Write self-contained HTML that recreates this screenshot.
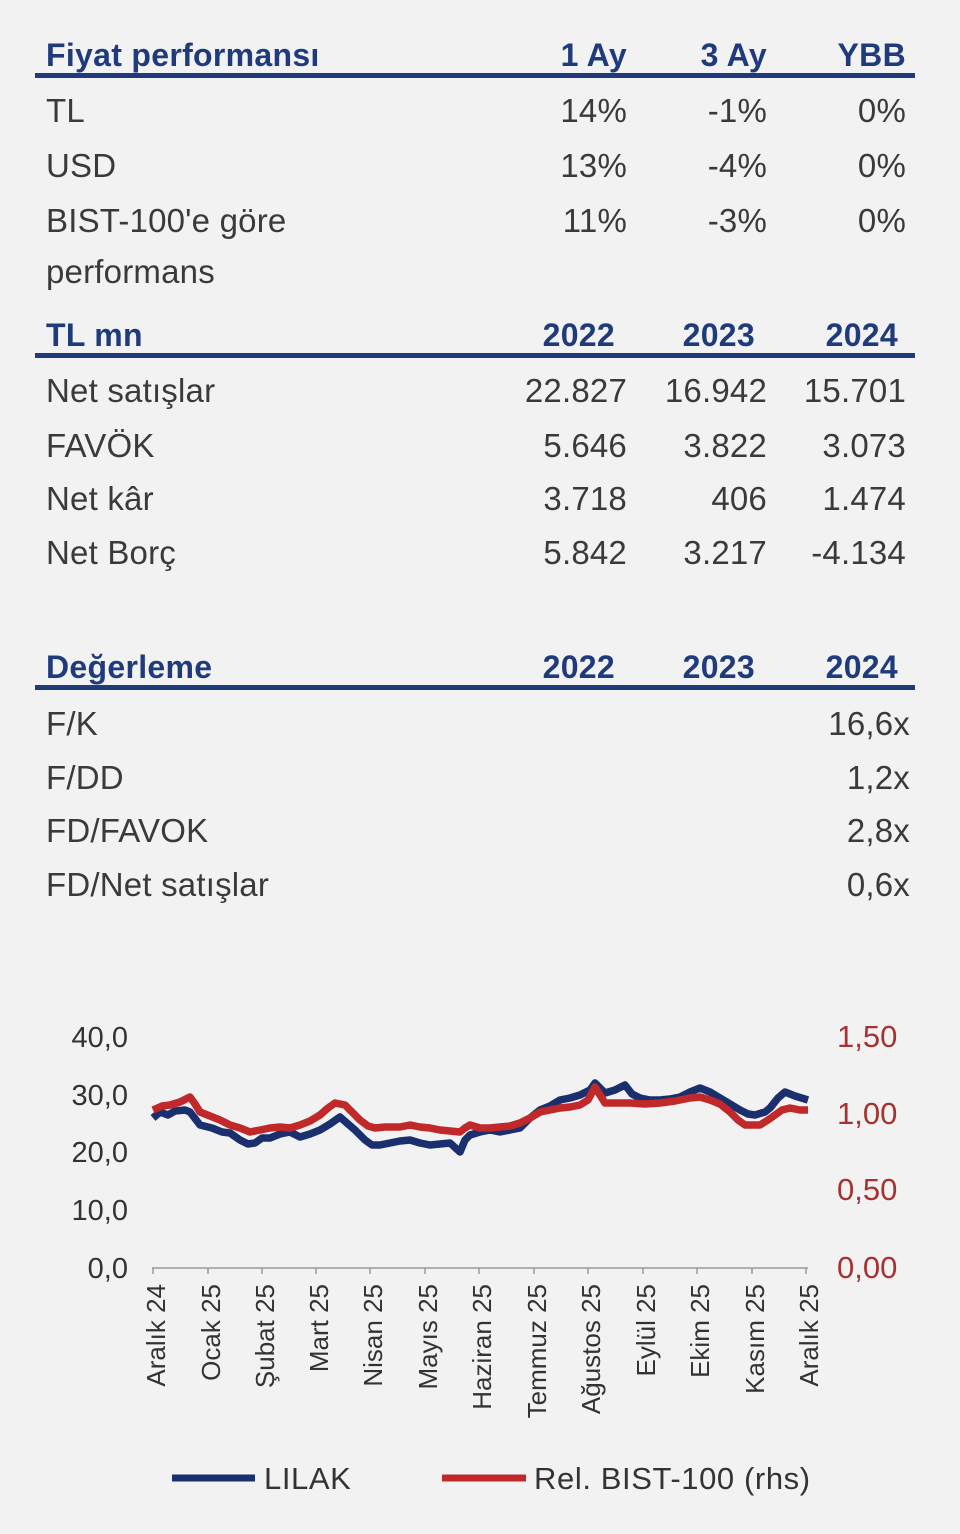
<!DOCTYPE html>
<html><head><meta charset="utf-8"><style>
html,body{margin:0;padding:0;background:#f2f2f2;}
svg{display:block}
.h{font:bold 32px "Liberation Sans",sans-serif;fill:#1f3b7c;letter-spacing:0.3px}
.t{font:33px "Liberation Sans",sans-serif;fill:#3a3a3a;letter-spacing:0.2px}
.ax{font:29px "Liberation Sans",sans-serif;fill:#333}
.axr{font:31px "Liberation Sans",sans-serif;fill:#a83232}
.xl{font:26px "Liberation Sans",sans-serif;fill:#333}
.lg{font:31px "Liberation Sans",sans-serif;fill:#333;letter-spacing:0.6px}
</style></head><body>
<svg width="960" height="1534" viewBox="0 0 960 1534" xmlns="http://www.w3.org/2000/svg">
<rect width="960" height="1534" fill="#f2f2f2"/>
<g text-anchor="end">
<text class="h" x="46" y="66" text-anchor="start">Fiyat performansı</text>
<text class="h" x="627" y="66">1 Ay</text><text class="h" x="767" y="66">3 Ay</text><text class="h" x="906" y="66">YBB</text>
<rect x="35" y="73" width="880" height="5" fill="#1f3b7c"/>
<text class="t" x="46" y="122" text-anchor="start">TL</text><text class="t" x="627" y="122">14%</text><text class="t" x="767" y="122">-1%</text><text class="t" x="906" y="122">0%</text>
<text class="t" x="46" y="177" text-anchor="start">USD</text><text class="t" x="627" y="177">13%</text><text class="t" x="767" y="177">-4%</text><text class="t" x="906" y="177">0%</text>
<text class="t" x="46" y="232" text-anchor="start">BIST-100'e göre</text><text class="t" x="627" y="232">11%</text><text class="t" x="767" y="232">-3%</text><text class="t" x="906" y="232">0%</text>
<text class="t" x="46" y="283" text-anchor="start">performans</text>

<text class="h" x="46" y="346" text-anchor="start">TL mn</text>
<text class="h" x="615" y="346">2022</text><text class="h" x="755" y="346">2023</text><text class="h" x="898" y="346">2024</text>
<rect x="35" y="353" width="880" height="5" fill="#1f3b7c"/>
<text class="t" x="46" y="402" text-anchor="start">Net satışlar</text><text class="t" x="627" y="402">22.827</text><text class="t" x="767" y="402">16.942</text><text class="t" x="906" y="402">15.701</text>
<text class="t" x="46" y="457" text-anchor="start">FAVÖK</text><text class="t" x="627" y="457">5.646</text><text class="t" x="767" y="457">3.822</text><text class="t" x="906" y="457">3.073</text>
<text class="t" x="46" y="510" text-anchor="start">Net kâr</text><text class="t" x="627" y="510">3.718</text><text class="t" x="767" y="510">406</text><text class="t" x="906" y="510">1.474</text>
<text class="t" x="46" y="564" text-anchor="start">Net Borç</text><text class="t" x="627" y="564">5.842</text><text class="t" x="767" y="564">3.217</text><text class="t" x="906" y="564">-4.134</text>

<text class="h" x="46" y="678" text-anchor="start">Değerleme</text>
<text class="h" x="615" y="678">2022</text><text class="h" x="755" y="678">2023</text><text class="h" x="898" y="678">2024</text>
<rect x="35" y="685" width="880" height="5" fill="#1f3b7c"/>
<text class="t" x="46" y="735" text-anchor="start">F/K</text><text class="t" x="910" y="735">16,6x</text>
<text class="t" x="46" y="789" text-anchor="start">F/DD</text><text class="t" x="910" y="789">1,2x</text>
<text class="t" x="46" y="842" text-anchor="start">FD/FAVOK</text><text class="t" x="910" y="842">2,8x</text>
<text class="t" x="46" y="896" text-anchor="start">FD/Net satışlar</text><text class="t" x="910" y="896">0,6x</text>

<text class="ax" x="128" y="1047">40,0</text><text class="ax" x="128" y="1105">30,0</text><text class="ax" x="128" y="1162">20,0</text><text class="ax" x="128" y="1220">10,0</text><text class="ax" x="128" y="1278">0,0</text>
</g>
<g text-anchor="start">
<text class="axr" x="837" y="1047">1,50</text><text class="axr" x="837" y="1124">1,00</text><text class="axr" x="837" y="1200">0,50</text><text class="axr" x="837" y="1278">0,00</text>
</g>
<line x1="152" y1="1268" x2="808" y2="1268" stroke="#999" stroke-width="1.5"/>
<g stroke="#999" stroke-width="1.5">
<line x1="153" y1="1268" x2="153" y2="1274"/><line x1="208" y1="1268" x2="208" y2="1274"/><line x1="262" y1="1268" x2="262" y2="1274"/><line x1="316" y1="1268" x2="316" y2="1274"/><line x1="370" y1="1268" x2="370" y2="1274"/><line x1="425" y1="1268" x2="425" y2="1274"/><line x1="479" y1="1268" x2="479" y2="1274"/><line x1="534" y1="1268" x2="534" y2="1274"/><line x1="588" y1="1268" x2="588" y2="1274"/><line x1="643" y1="1268" x2="643" y2="1274"/><line x1="697" y1="1268" x2="697" y2="1274"/><line x1="752" y1="1268" x2="752" y2="1274"/><line x1="806" y1="1268" x2="806" y2="1274"/>
</g>
<g text-anchor="end">
<text class="xl" transform="translate(165,1284) rotate(-90)">Aralık 24</text>
<text class="xl" transform="translate(220,1284) rotate(-90)">Ocak 25</text>
<text class="xl" transform="translate(274,1284) rotate(-90)">Şubat 25</text>
<text class="xl" transform="translate(328,1284) rotate(-90)">Mart 25</text>
<text class="xl" transform="translate(382,1284) rotate(-90)">Nisan 25</text>
<text class="xl" transform="translate(437,1284) rotate(-90)">Mayıs 25</text>
<text class="xl" transform="translate(491,1284) rotate(-90)">Haziran 25</text>
<text class="xl" transform="translate(546,1284) rotate(-90)">Temmuz 25</text>
<text class="xl" transform="translate(600,1284) rotate(-90)">Ağustos 25</text>
<text class="xl" transform="translate(655,1284) rotate(-90)">Eylül 25</text>
<text class="xl" transform="translate(709,1284) rotate(-90)">Ekim 25</text>
<text class="xl" transform="translate(764,1284) rotate(-90)">Kasım 25</text>
<text class="xl" transform="translate(818,1284) rotate(-90)">Aralık 25</text>
</g>
<polyline fill="none" stroke="#1a2f6e" stroke-width="7.5" stroke-linejoin="round" points="153,1118 160,1112 168,1115 175,1111 185,1110 190,1112 200,1125 212,1128 222,1132 230,1133 240,1140 248,1144 255,1143 262,1138 270,1138 280,1134 290,1132 300,1137 310,1134 320,1130 330,1124 340,1117 348,1124 355,1130 365,1140 372,1145 380,1145 390,1143 400,1141 410,1140 420,1143 430,1145 440,1144 450,1143 460,1152 465,1140 470,1135 480,1132 490,1130 500,1132 510,1130 520,1128 530,1118 540,1110 550,1106 560,1100 570,1098 580,1095 590,1090 595,1083 600,1088 605,1093 615,1090 625,1085 632,1094 640,1098 650,1100 660,1100 670,1099 680,1097 690,1092 700,1088 710,1092 720,1098 730,1104 740,1110 748,1114 755,1115 765,1112 770,1108 778,1098 785,1092 795,1096 808,1100"/>
<polyline fill="none" stroke="#c0282a" stroke-width="7.5" stroke-linejoin="round" points="153,1110 162,1106 170,1105 180,1102 190,1097 195,1104 200,1112 210,1116 220,1120 230,1125 240,1128 250,1132 260,1130 270,1128 280,1127 290,1128 300,1125 310,1121 320,1115 328,1108 335,1103 345,1105 352,1112 360,1120 368,1126 375,1128 385,1127 400,1127 410,1125 420,1127 430,1128 440,1130 450,1131 460,1132 465,1128 470,1125 480,1128 490,1128 500,1127 510,1126 520,1123 530,1118 540,1112 550,1110 560,1108 570,1107 580,1105 588,1100 595,1087 600,1095 605,1103 615,1103 630,1103 645,1104 660,1103 675,1101 690,1098 700,1097 710,1100 720,1104 730,1112 738,1120 745,1125 752,1125 760,1125 768,1120 775,1115 782,1110 790,1108 800,1110 808,1110"/>
<line x1="172" y1="1478" x2="255" y2="1478" stroke="#1a2f6e" stroke-width="7"/>
<text class="lg" x="264" y="1489">LILAK</text>
<line x1="442" y1="1478" x2="526" y2="1478" stroke="#c0282a" stroke-width="7"/>
<text class="lg" x="534" y="1489">Rel. BIST-100 (rhs)</text>
</svg>
</body></html>
